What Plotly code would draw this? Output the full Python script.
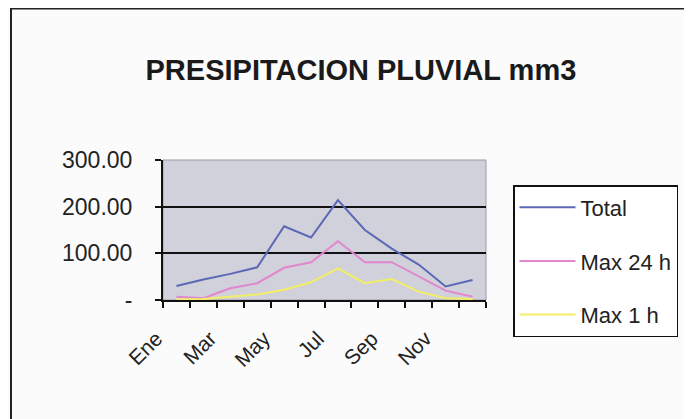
import plotly.graph_objects as go

months = ["Ene", "Feb", "Mar", "Abr", "May", "Jun", "Jul", "Ago", "Sep", "Oct", "Nov", "Dic"]
month_labels = ["Ene", "", "Mar", "", "May", "", "Jul", "", "Sep", "", "Nov", ""]
total = [30, 44, 56, 70, 158, 134, 214, 150, 110, 76, 29, 43]
max_24h = [7, 4, 25, 36, 69, 81, 126, 81, 81, 50, 20, 7]
max_1h = [1, 2, 7, 12, 22, 38, 68, 36, 45, 18, 4, 2]
y_ticks = [0, 100, 200, 300]
y_tick_labels = ["-", "100.00", "200.00", "300.00"]

series = [
    ("Total", total, "#5c68b6"),
    ("Max 24 h", max_24h, "#e286cf"),
    ("Max 1 h", max_1h, "#f2ee66"),
]

fig = go.Figure()
for i, (name, vals, col) in enumerate(series):
    fig.add_trace(go.Scatter(
        x=months, y=vals, name=name, mode="lines",
        line=dict(color=col, width=2), legendgroup=str(i),
    ))

fig.update_layout(
    width=692, height=419,
    margin=dict(l=155, r=214, t=152, b=127, autoexpand=False),
    paper_bgcolor="#fbfbfb",
    plot_bgcolor="#d0d1db",
    font=dict(family="Liberation Sans, Arial, sans-serif", size=22, color="#222222"),
    title=dict(
        text="<b>PRESIPITACION PLUVIAL mm3</b>",
        x=0.51, xanchor="center", y=0.852, yanchor="middle",
        font=dict(family="Liberation Sans, Arial, sans-serif", size=29, color="#1a1a1a"),
    ),
    showlegend=True,
    legend=dict(
        x=1.0836, xanchor="left", y=0.821, yanchor="top",
        bgcolor="#ffffff", bordercolor="#111111", borderwidth=1.5,
        font=dict(size=22), tracegroupgap=22, itemwidth=56, maxheight=400,
    ),
    xaxis=dict(
        type="category", tickmode="array", tickvals=months, ticktext=month_labels,
        tickangle=-45, tickson="boundaries", ticks="outside", ticklen=6,
        tickcolor="#111111", tickwidth=1.5, ticklabelstandoff=16, ticklabelshift=-20,
        showline=True, linecolor="#111111", linewidth=2, mirror=False,
        showgrid=False, range=[-0.5, 11.5], tickfont=dict(size=21),
    ),
    yaxis=dict(
        range=[0, 300], tickmode="array", tickvals=y_ticks, ticktext=y_tick_labels,
        ticks="outside", ticklen=6, tickcolor="#111111", tickwidth=1.5,
        ticklabelstandoff=18,
        showline=True, linecolor="#111111", linewidth=2,
        showgrid=True, gridcolor="#111111", gridwidth=2, zeroline=False,
        tickfont=dict(size=23),
    ),
    shapes=[
        dict(type="rect", xref="paper", yref="paper", x0=0, x1=1, y0=0, y1=1,
             line=dict(color="#9a9aa6", width=1), layer="below"),
        dict(type="rect", xref="paper", yref="paper", x0=-0.4706, x1=1.7, y0=-1.0, y1=2.082,
             line=dict(color="#222222", width=2), fillcolor="rgba(0,0,0,0)"),
    ],
)

fig.write_html("out.html")
